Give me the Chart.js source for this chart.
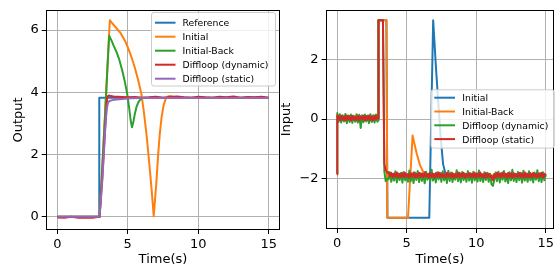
<!DOCTYPE html>
<html><head><meta charset="utf-8">
<script src="https://cdn.jsdelivr.net/npm/chart.js@4.4.1/dist/chart.umd.min.js"></script>
<style>
html,body{margin:0;padding:0;background:#fff;width:557px;height:267px;overflow:hidden}
canvas{position:absolute;top:0}
#c1{left:0}
#c2{left:279px}
</style></head><body>
<canvas id="c1" width="280" height="267"></canvas>
<canvas id="c2" width="278" height="267"></canvas>
<script>
// ---------- tick labels ----------
const xTicks = [0, 5, 10, 15];
const yTicksOut = [0, 2, 4, 6];
const yTicksIn = [-2, 0, 2];

// ---------- left panel: Output ----------
const tRef = [0, 2.98, 2.98, 15];
const outRef = [0, 0, 3.83, 3.83];

const tInit = [0,3.0,3.2,3.4,3.6,3.73,3.9,4.2,4.5,4.8,5.0,5.25,5.5,5.75,5.97,6.15,6.33,6.5,6.68,6.78,6.84,6.9,7.03,7.15,7.27,7.4,7.55,7.7,7.85,8.0,8.3,8.8,15];
const outInit = [0,0,1.65,3.4,5.2,6.32,6.22,6.06,5.9,5.66,5.45,5.15,4.8,4.37,3.95,3.35,2.65,1.85,0.95,0.38,0.02,0.35,1.1,1.95,2.65,3.2,3.6,3.8,3.87,3.88,3.85,3.83,3.83];

const tBack = [0,3.0,3.2,3.4,3.55,3.68,3.85,4.0,4.2,4.4,4.6,4.8,4.96,5.1,5.2,5.3,5.4,5.5,5.62,5.75,5.9,6.1,15];
const outBack = [0,0,1.65,3.35,4.7,5.82,5.66,5.5,5.3,5.05,4.72,4.33,3.95,3.5,3.12,2.88,3.05,3.3,3.53,3.68,3.78,3.82,3.82];

const tDynOut = [0,0.5,1.0,1.5,2.0,2.5,3.0,3.2,3.4,3.55,3.65,3.8,4.0,4.3,4.6,5.0,5.5,6.0,6.5,7.0,7.5,8.0,8.5,9.0,9.5,10.0,10.5,11.0,11.5,12.0,12.5,13.0,13.5,14.0,14.5,15.0];
const outDyn = [-0.02,-0.03,0.0,-0.03,-0.02,-0.03,0.0,1.3,2.9,3.85,3.9,3.88,3.87,3.86,3.85,3.84,3.85,3.83,3.84,3.86,3.83,3.85,3.87,3.84,3.83,3.86,3.84,3.83,3.86,3.84,3.87,3.83,3.85,3.84,3.86,3.83];

const tStatOut = [0,1.0,2.0,3.0,3.2,3.4,3.5,3.6,3.7,3.9,4.2,4.6,5.2,6.0,15];
const outStat = [0,0,0,0,1.2,2.8,3.45,3.67,3.72,3.75,3.77,3.79,3.81,3.82,3.82];

// ---------- right panel: Input ----------
const tInitIn = [0,2.98,2.98,3.55,3.62,6.63,6.91,7.0,7.1,7.27,7.45,7.62,7.8,8.0,15];
const inInit = [0,0,3.3,3.3,-3.3,-3.3,3.3,2.6,1.8,0.6,-0.6,-1.5,-1.85,-1.9,-1.9];

const tBackIn = [0,2.98,2.98,3.55,3.62,5.1,5.43,5.55,5.73,5.97,6.2,6.45,15];
const inBack = [0,0,3.3,3.3,-3.3,-3.3,-0.55,-0.8,-1.16,-1.55,-1.77,-1.88,-1.9];

const tDiff = [0,0.02,
0.1,0.2,0.3,0.4,0.5,0.6,0.7,0.8,0.9,1.0,1.1,1.2,1.3,1.4,1.5,1.6,1.7,1.8,1.9,2.0,2.1,2.2,2.3,2.4,2.5,2.6,2.7,2.8,2.9,
2.97,2.98,3.3,3.4,3.5,3.6,
3.7,3.8,3.9,4.0,4.1,4.2,4.3,4.4,4.5,4.6,
4.7,4.8,4.9,5.0,5.1,5.2,5.3,5.4,5.5,5.6,
5.7,5.8,5.9,6.0,6.1,6.2,6.3,6.4,6.5,6.6,
6.7,6.8,6.9,7.0,7.1,7.2,7.3,7.4,7.5,7.6,
7.7,7.8,7.9,8.0,8.1,8.2,8.3,8.4,8.5,8.6,
8.7,8.8,8.9,9.0,9.1,9.2,9.3,9.4,9.5,9.6,
9.7,9.8,9.9,10.0,10.1,10.2,10.3,10.4,10.5,10.6,
10.7,10.8,10.9,11.0,11.1,11.2,11.3,11.4,11.5,11.6,
11.7,11.8,11.9,12.0,12.1,12.2,12.3,12.4,12.5,12.6,
12.7,12.8,12.9,13.0,13.1,13.2,13.3,13.4,13.5,13.6,
13.7,13.8,13.9,14.0,14.1,14.2,14.3,14.4,14.5,14.6,
14.7,14.8,14.9,15.0];

const inDyn = [-1.85,0.2,
-0.1,0.16,-0.12,0.13,-0.08,0.17,-0.14,0.12,-0.1,0.15,-0.13,0.11,-0.09,0.16,-0.12,0.14,-0.3,0.13,-0.11,0.15,-0.08,0.12,-0.14,0.16,-0.1,0.13,-0.12,0.15,-0.09,
-0.05,3.3,3.3,-1.75,-2.08,-2.0,
-2.02,-1.78,-2.1,-1.84,-2.06,-1.75,-2.12,-1.82,-2.04,-1.8,
-2.13,-1.77,-2.05,-1.86,-2.1,-1.72,-2.08,-1.83,-2.14,-1.79,
-2.04,-1.74,-2.11,-1.81,-2.07,-1.85,-2.15,-1.76,-2.03,-1.82,
-2.09,-1.7,-2.06,-1.84,-2.12,-1.78,-2.02,-1.8,-2.1,-1.75,
-2.05,-1.82,-2.14,-1.73,-2.07,-1.79,-2.11,-1.84,-2.03,-1.71,
-2.08,-1.8,-2.12,-1.77,-2.04,-1.83,-2.1,-1.74,-2.06,-1.81,
-2.13,-1.76,-2.05,-1.82,-2.09,-1.72,-2.07,-1.85,-2.11,-1.78,
-2.04,-1.8,-2.1,-1.83,-2.18,-2.24,-2.06,-1.79,-2.08,-1.76,
-2.12,-1.81,-2.03,-1.74,-2.09,-1.84,-2.14,-1.78,-2.05,-1.7,
-2.07,-1.83,-2.11,-1.77,-2.04,-1.8,-2.13,-1.73,-2.06,-1.82,
-2.1,-1.75,-2.05,-1.84,-2.12,-1.79,-2.03,-1.71,-2.08,-1.81,
-2.11,-1.78,-2.05,-1.83];

const inStat = [-1.85,0.12,
0.1,-0.04,0.11,-0.03,0.09,-0.05,0.12,-0.02,0.1,-0.06,0.11,-0.03,0.08,-0.05,0.12,-0.04,0.09,-0.02,0.11,-0.05,0.1,-0.03,0.12,-0.04,0.09,-0.05,0.11,-0.02,0.1,
0.03,3.3,3.3,-1.5,-1.72,-1.8,
-1.78,-1.92,-1.8,-1.95,-1.82,-1.93,-1.79,-1.96,-1.83,-1.94,
-1.81,-1.95,-1.8,-1.93,-1.84,-1.97,-1.81,-1.94,-1.79,-1.95,
-1.83,-1.96,-1.8,-1.94,-1.82,-1.95,-1.78,-1.93,-1.84,-1.96,
-1.8,-1.94,-1.83,-1.97,-1.81,-1.93,-1.79,-1.95,-1.82,-1.94,
-1.84,-1.96,-1.8,-1.93,-1.82,-1.95,-1.81,-1.97,-1.83,-1.94,
-1.79,-1.95,-1.82,-1.94,-1.8,-1.96,-1.84,-1.93,-1.81,-1.95,
-1.83,-1.94,-1.8,-1.96,-1.82,-1.93,-1.79,-1.95,-1.84,-1.97,
-1.81,-1.94,-1.83,-1.95,-1.9,-2.05,-1.84,-1.96,-1.8,-1.94,
-1.82,-1.95,-1.79,-1.93,-1.83,-1.96,-1.8,-1.94,-1.82,-1.97,
-1.81,-1.93,-1.84,-1.95,-1.8,-1.94,-1.82,-1.96,-1.79,-1.95,
-1.83,-1.94,-1.81,-1.96,-1.8,-1.93,-1.84,-1.95,-1.82,-1.94,
-1.8,-1.95,-1.83,-1.93];

// ---------- rendering ----------
const FONT = '"DejaVu Sans", sans-serif';
const C = {blue:'#1f77b4', orange:'#ff7f0e', green:'#2ca02c', red:'#d62728', purple:'#9467bd'};

function pts(t, v){ const n = Math.min(t.length, v.length); const a=[]; for(let i=0;i<n;i++) a.push({x:t[i], y:v[i]}); return a; }
function ds(label, t, v, color, order){
  return {label, data: pts(t, v), borderColor: color, backgroundColor: color, borderWidth: 2,
          pointRadius: 0, pointHoverRadius: 0, tension: 0, fill: false, order,
          borderJoinStyle: 'round', borderCapStyle: 'butt'};
}
const fmt = v => String(v).replace('-', '\u2212');

const spines = {
  id: 'spines',
  afterDatasetsDraw(chart){
    const a = chart.chartArea, c = chart.ctx;
    c.save(); c.strokeStyle = '#000'; c.lineWidth = 1;
    const l = Math.floor(a.left)+0.5, r = Math.floor(a.right)+0.5, t = Math.floor(a.top)+0.5, b = Math.floor(a.bottom)+0.5;
    c.strokeRect(l, t, r-l, b-t);
    c.restore();
  }
};
const mplLegend = {
  id: 'mplLegend',
  afterDraw(chart, args, o){
    const c = chart.ctx; c.save();
    const [x,y,w,h] = o.box;
    c.beginPath();
    if (c.roundRect) c.roundRect(x, y, w, h, 2.5); else c.rect(x, y, w, h);
    c.fillStyle = 'rgba(255,255,255,0.8)'; c.fill();
    c.strokeStyle = '#cccccc'; c.lineWidth = 1; c.stroke();
    c.font = o.fontSize + 'px ' + FONT; c.textAlign = 'left'; c.textBaseline = 'alphabetic';
    chart.data.datasets.forEach((d, i) => {
      const yy = o.y0 + i*o.dy;
      c.strokeStyle = d.borderColor; c.lineWidth = 2;
      c.beginPath(); c.moveTo(o.hx0, yy); c.lineTo(o.hx1, yy); c.stroke();
      c.fillStyle = '#000'; c.fillText(d.label, o.tx, yy + 3.4);
    });
    c.restore();
  }
};

function scales(o){
  return {
    x: {type:'linear', min:o.xmin, max:o.xmax,
        afterFit: s => { s.height = o.xh; },
        afterBuildTicks: s => { s.ticks = xTicks.map(v => ({value:v})); },
        ticks: {autoSkip:false, maxRotation:0, color:'#000', font:{family:FONT, size:13}, padding:3, callback: v => fmt(v)},
        grid: {color:'#b0b0b0', lineWidth:1, tickColor:'#000', tickLength:5, drawTicks:true, tickWidth:1},
        border: {display:false},
        title: {display:true, text:'Time(s)', color:'#000', font:{family:FONT, size:13, lineHeight:1}, padding:{top:0, bottom:0.6}}
    },
    y: {type:'linear', min:o.ymin, max:o.ymax,
        afterFit: s => { s.width = o.yw; },
        afterBuildTicks: s => { s.ticks = o.yt.map(v => ({value:v})); },
        ticks: {autoSkip:false, color:'#000', font:{family:FONT, size:13}, padding:3, callback: v => fmt(v)},
        grid: {color:'#b0b0b0', lineWidth:1, tickColor:'#000', tickLength:5, drawTicks:true, tickWidth:1},
        border: {display:false},
        title: {display:true, text:o.ytitle, color:'#000', font:{family:FONT, size:13, lineHeight:1}, padding:{top:o.ytp, bottom:0}}
    }
  };
}
function baseOpts(o){
  return {responsive:false, animation:false, devicePixelRatio:1,
    layout:{padding:o.pad},
    plugins:{legend:{display:false}, tooltip:{enabled:false}, mplLegend:o.leg},
    scales: scales(o)};
}

new Chart(document.getElementById('c1'), {
  type:'line',
  data:{datasets:[
    ds('Reference', tRef, outRef, C.blue, 5),
    ds('Initial', tInit, outInit, C.orange, 4),
    ds('Initial-Back', tBack, outBack, C.green, 3),
    ds('Diffloop (dynamic)', tDynOut, outDyn, C.red, 2),
    ds('Diffloop (static)', tStatOut, outStat, C.purple, 1)
  ]},
  options: baseOpts({xmin:-0.75, xmax:15.75, ymin:-0.39, ymax:6.62, xh:38, yw:46.7, yt:yTicksOut,
    ytitle:'Output', ytp:11.8, pad:{left:0, top:10, right:0.5, bottom:0},
    leg:{box:[151.5,12.5,124,73.5], y0:22.7, dy:14, hx0:155, hx1:175.5, tx:182.5, fontSize:9.3}}),
  plugins:[spines, mplLegend]
});

new Chart(document.getElementById('c2'), {
  type:'line',
  data:{datasets:[
    ds('Initial', tInitIn, inInit, C.blue, 4),
    ds('Initial-Back', tBackIn, inBack, C.orange, 3),
    ds('Diffloop (dynamic)', tDiff, inDyn, C.green, 2),
    ds('Diffloop (static)', tDiff, inStat, C.red, 1)
  ]},
  options: baseOpts({xmin:-0.75, xmax:15.54, ymin:-3.645, ymax:3.62, xh:39, yw:47.6, yt:yTicksIn,
    ytitle:'Input', ytp:1.4, pad:{left:0, top:9.3, right:0.2, bottom:0},
    leg:{box:[152,89.8,123.3,58.3], y0:97.7, dy:13.8, hx0:155.3, hx1:176, tx:183.3, fontSize:9.3}}),
  plugins:[spines, mplLegend]
});
</script>
</body></html>
